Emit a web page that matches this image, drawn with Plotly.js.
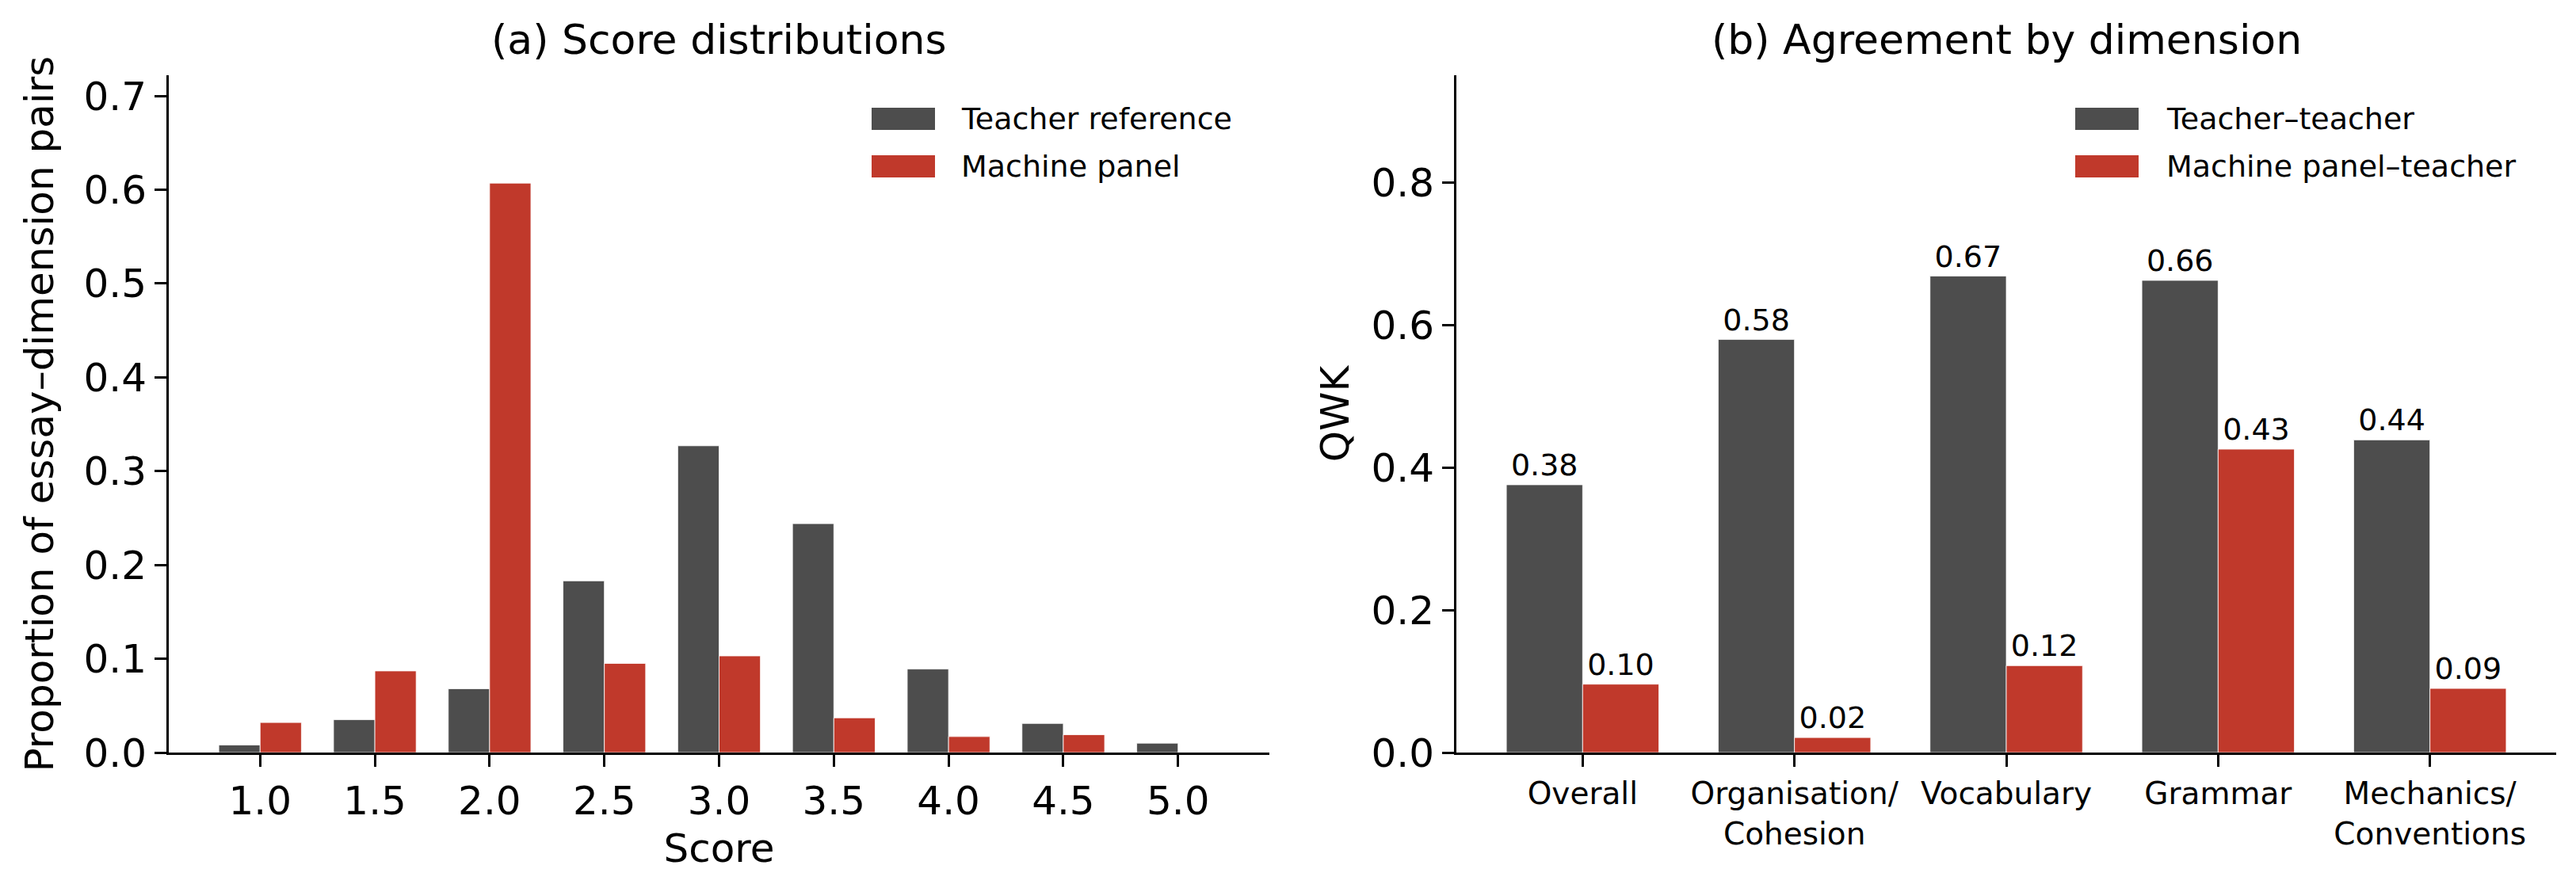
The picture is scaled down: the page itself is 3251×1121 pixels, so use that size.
<!DOCTYPE html>
<html>
<head>
<meta charset="utf-8">
<script src="https://cdn.plot.ly/plotly-3.0.1.min.js"></script>
<style>
  html, body { margin: 0; padding: 0; background: #ffffff; }
  #chart { width: 3251px; height: 1121px; }
</style>
</head>
<body>
<div id="chart"></div>
<script>
// (a) score distributions
const scores = [1.0, 1.5, 2.0, 2.5, 3.0, 3.5, 4.0, 4.5, 5.0];
const teacherShare = [0.008, 0.035, 0.068, 0.183, 0.327, 0.244, 0.089, 0.031, 0.010];
const machineShare = [0.032, 0.087, 0.607, 0.095, 0.103, 0.037, 0.017, 0.019, 0.0];
const seriesA = ["Teacher reference", "Machine panel"];

// (b) agreement by dimension
const dimensions = ["Overall", "Organisation/<br>Cohesion", "Vocabulary", "Grammar", "Mechanics/<br>Conventions"];
const qwkTeacher = [0.376, 0.580, 0.669, 0.663, 0.439];
const qwkMachine = [0.096, 0.021, 0.122, 0.426, 0.090];
const seriesB = ["Teacher–teacher", "Machine panel–teacher"];

const GREY = "#4d4d4d";
const RED = "#c0392b";
const FONT = "DejaVu Sans, Liberation Sans, sans-serif";

const W = 3251, H = 1121;
const px = v => v / W;
const py = v => 1 - v / H;

const data = [
  {
    type: "bar", x: scores, y: teacherShare, name: seriesA[0],
    xaxis: "x", yaxis: "y", offset: -0.18, width: 0.18,
    marker: { color: GREY, line: { color: "#ffffff", width: 0.8 } }
  },
  {
    type: "bar", x: scores, y: machineShare, name: seriesA[1],
    xaxis: "x", yaxis: "y", offset: 0, width: 0.18,
    marker: { color: RED, line: { color: "#ffffff", width: 0.8 } }
  },
  {
    type: "bar", x: dimensions, y: qwkTeacher, name: seriesB[0],
    xaxis: "x2", yaxis: "y2", offset: -0.36, width: 0.36,
    marker: { color: GREY, line: { color: "#ffffff", width: 0.8 } },
    texttemplate: "%{y:.2f}", textposition: "outside", cliponaxis: false,
    textfont: { family: FONT, size: 38, color: "#000000" }
  },
  {
    type: "bar", x: dimensions, y: qwkMachine, name: seriesB[1],
    xaxis: "x2", yaxis: "y2", offset: 0, width: 0.36,
    marker: { color: RED, line: { color: "#ffffff", width: 0.8 } },
    texttemplate: "%{y:.2f}", textposition: "outside", cliponaxis: false,
    textfont: { family: FONT, size: 38, color: "#000000" }
  }
];

const axisCommon = {
  showline: true, linecolor: "#000000", linewidth: 3,
  ticks: "outside", ticklen: 15, tickwidth: 3, tickcolor: "#000000",
  showgrid: false, zeroline: false, mirror: false, fixedrange: true,
  tickfont: { family: FONT, size: 50, color: "#000000" }
};

// legends drawn matplotlib-style: wide patch + label, no frame
function legendBlock(labels, colors, patchLeft, textLeft, rows) {
  const shapes = [], notes = [];
  labels.forEach(function (label, i) {
    shapes.push({
      type: "rect", xref: "paper", yref: "paper", layer: "above",
      x0: px(patchLeft), x1: px(patchLeft + 80),
      y0: py(rows[i] + 14), y1: py(rows[i] - 14),
      fillcolor: colors[i], line: { width: 0 }
    });
    notes.push({
      text: label, xref: "paper", yref: "paper",
      x: px(textLeft), y: py(rows[i]), xanchor: "left", yanchor: "middle",
      showarrow: false, font: { family: FONT, size: 38, color: "#000000" }
    });
  });
  return { shapes: shapes, notes: notes };
}

const legA = legendBlock(seriesA, [GREY, RED], 1100, 1211, [150, 210]);
const legB = legendBlock(seriesB, [GREY, RED], 2619, 2732, [150, 210]);

const layout = {
  width: W, height: H,
  margin: { l: 0, r: 0, t: 0, b: 0 },
  paper_bgcolor: "#ffffff", plot_bgcolor: "#ffffff",
  barmode: "overlay", showlegend: false,
  font: { family: FONT, color: "#000000" },
  xaxis: Object.assign({}, axisCommon, {
    domain: [px(213), px(1602)], anchor: "y",
    range: [0.602, 5.398], tick0: 0, dtick: 0.5, tickformat: ".1f",
    title: { text: "Score", font: { family: FONT, size: 50 }, standoff: 14 }
  }),
  yaxis: Object.assign({}, axisCommon, {
    domain: [py(950), py(95)], anchor: "x",
    range: [0, 0.722], dtick: 0.1, tickformat: ".1f",
    title: { text: "Proportion of essay–dimension pairs", font: { family: FONT, size: 50 }, standoff: 22 }
  }),
  xaxis2: Object.assign({}, axisCommon, {
    domain: [px(1838), px(3226)], anchor: "y2", type: "category",
    range: [-0.596, 4.596],
    tickfont: { family: FONT, size: 39, color: "#000000" }
  }),
  yaxis2: Object.assign({}, axisCommon, {
    domain: [py(950), py(95)], anchor: "x2",
    range: [0, 0.951], dtick: 0.2, tickformat: ".1f",
    title: { text: "QWK", font: { family: FONT, size: 50 }, standoff: 12 }
  }),
  shapes: legA.shapes.concat(legB.shapes),
  annotations: [
    {
      text: "(a) Score distributions", xref: "paper", yref: "paper",
      x: px(907), y: py(82), xanchor: "center", yanchor: "bottom",
      showarrow: false, font: { family: FONT, size: 52, color: "#000000" }
    },
    {
      text: "(b) Agreement by dimension", xref: "paper", yref: "paper",
      x: px(2532), y: py(82), xanchor: "center", yanchor: "bottom",
      showarrow: false, font: { family: FONT, size: 52, color: "#000000" }
    }
  ].concat(legA.notes, legB.notes)
};

const config = { responsive: false, displayModeBar: false };

Plotly.newPlot("chart", data, layout, config);
</script>
</body>
</html>
